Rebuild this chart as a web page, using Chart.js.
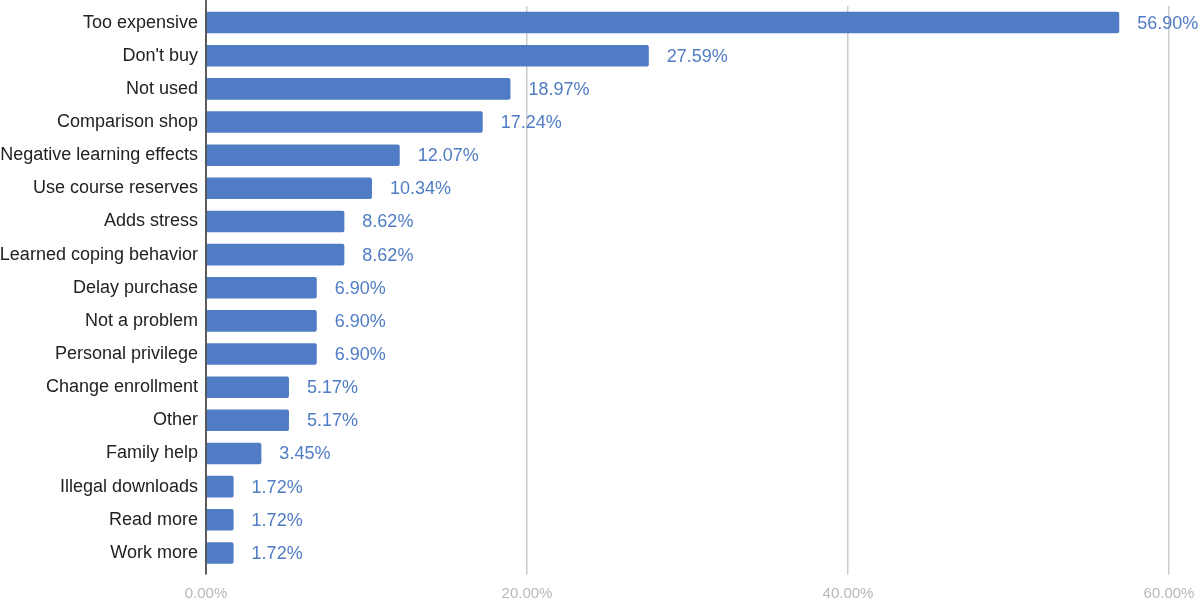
<!DOCTYPE html>
<html>
<head>
<meta charset="utf-8">
<script src="https://cdn.jsdelivr.net/npm/chart.js@4/dist/chart.umd.min.js"></script>
<style>
  html, body { margin: 0; padding: 0; background: #fff; }
  #wrap { width: 1200px; height: 599px; }
</style>
</head>
<body>
<div id="wrap"><canvas id="chart" width="1200" height="599"></canvas></div>
<script>
const categories = ['Too expensive', "Don't buy", 'Not used', 'Comparison shop', 'Negative learning effects',
  'Use course reserves', 'Adds stress', 'Learned coping behavior', 'Delay purchase', 'Not a problem',
  'Personal privilege', 'Change enrollment', 'Other', 'Family help', 'Illegal downloads', 'Read more', 'Work more'];
const percentages = [56.90, 27.59, 18.97, 17.24, 12.07, 10.34, 8.62, 8.62, 6.90, 6.90, 6.90, 5.17, 5.17, 3.45, 1.72, 1.72, 1.72];
const xTicks = [0, 20, 40, 60];

const barColor = '#4f7cc4';
const fontFamily = '"Liberation Sans", Arial, sans-serif';

// value text after each bar, plus the dark left axis line
const valueLabels = {
  id: 'valueLabels',
  afterDatasetsDraw(chart) {
    const ctx = chart.ctx;
    const meta = chart.getDatasetMeta(0);
    const area = chart.chartArea;
    ctx.save();
    ctx.strokeStyle = '#333333';
    ctx.lineWidth = 1.5;
    ctx.beginPath();
    ctx.moveTo(chart.scales.x.getPixelForValue(0), 0);
    ctx.lineTo(chart.scales.x.getPixelForValue(0), area.bottom + 5);
    ctx.stroke();

    ctx.font = '18px ' + fontFamily;
    ctx.fillStyle = barColor;
    ctx.textAlign = 'left';
    ctx.textBaseline = 'middle';
    meta.data.forEach((bar, i) => {
      ctx.fillText(percentages[i].toFixed(2) + '%', bar.x + 18, bar.y + 1);
    });
    ctx.restore();
  }
};

new Chart(document.getElementById('chart').getContext('2d'), {
  type: 'bar',
  data: {
    labels: categories,
    datasets: [{
      data: percentages,
      backgroundColor: barColor,
      borderWidth: 0,
      borderRadius: 2,
      borderSkipped: 'start',
      barPercentage: 0.65,
      categoryPercentage: 1
    }]
  },
  options: {
    indexAxis: 'y',
    responsive: false,
    animation: false,
    layout: { padding: { top: 6, right: 0, left: 0, bottom: 0 } },
    plugins: { legend: { display: false }, tooltip: { enabled: false } },
    scales: {
      x: {
        min: 0,
        max: 60,
        afterBuildTicks(scale) { scale.ticks = xTicks.map(v => ({ value: v })); },
        afterFit(scale) {
          scale.height = 29.5;
          scale.paddingLeft = 0;
          scale.paddingRight = 31;
        },
        grid: { color: '#cccccc', lineWidth: 1.5, tickLength: 5, tickColor: '#cccccc' },
        border: { display: false },
        ticks: {
          color: '#b8b8b8',
          font: { family: fontFamily, size: 15 },
          padding: 10,
          maxRotation: 0,
          callback: v => Number(v).toFixed(2) + '%'
        }
      },
      y: {
        afterFit(scale) {
          scale.width = 206;
          scale.paddingTop = 0;
          scale.paddingBottom = 0;
        },
        grid: { display: false, drawTicks: false },
        border: { display: false },
        ticks: {
          color: '#222222',
          font: { family: fontFamily, size: 18 },
          padding: 8,
          autoSkip: false
        }
      }
    }
  },
  plugins: [valueLabels]
});
</script>
</body>
</html>
